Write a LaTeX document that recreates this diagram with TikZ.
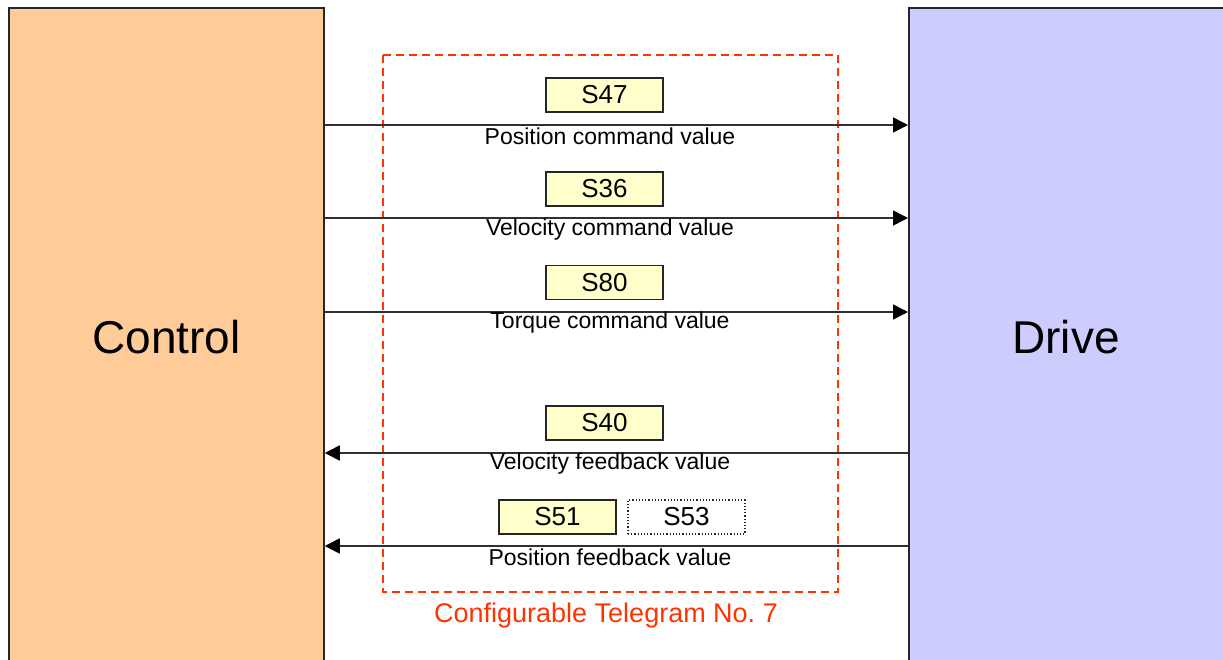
\documentclass[tikz,border=0pt]{standalone}
\usepackage{fontspec}
\setmainfont{Liberation Sans}
\usetikzlibrary{arrows.meta}
\definecolor{ctrlfill}{HTML}{FFCC99}
\definecolor{drivefill}{HTML}{CCCCFF}
\definecolor{idfill}{HTML}{FFFFCC}
\definecolor{telred}{HTML}{FF3300}
\definecolor{wire}{HTML}{303030}
\tikzset{
  unit/.style={draw=black!85, line width=1.5pt, minimum height=662pt,
    inner sep=0pt},
  ident/.style={draw=black!85, line width=1.2pt, fill=idfill, minimum width=117pt,
    minimum height=34pt, inner sep=0pt, font=\fontsize{26}{28}\selectfont},
  identopt/.style={ident, fill=white, dotted, line width=1.5pt},
  sig/.style={font=\fontsize{23}{25}\selectfont, inner sep=0pt},
  flow/.style={draw=wire, line width=1.6pt, -{Triangle[length=15pt,width=15pt,color=black]}},
  telegram/.style={draw=telred, line width=2pt, dash pattern=on 8pt off 5pt},
}
\frenchspacing
\begin{document}
\begin{tikzpicture}[x=1pt, y=-1pt]
  \useasboundingbox (0,0) rectangle (1223,659);
  \clip (0,0) rectangle (1223,659);

  % the two communicating units
  \node[unit, fill=ctrlfill, minimum width=315pt] (ctrl) at (166.5,339) {};
  \node[unit, fill=drivefill, minimum width=340pt, anchor=west] (drive) at (908,339) {};
  \node[font=\fontsize{46}{50}\selectfont] (ctrltext) at (166.5,337) {Control};
  \node[font=\fontsize{46}{50}\selectfont] (drivetext) at (1066,337) {Drive};

  % telegram frame
  \draw[telegram] (383,55) rectangle (838,592);
  \node[text=telred, font=\fontsize{27}{29}\selectfont] (tellabel) at (606,616) {Configurable Telegram No. 7};

  % signal levels
  \coordinate (l1) at (0,125);
  \coordinate (l2) at (0,218);
  \coordinate (l3) at (0,312);
  \coordinate (l4) at (0,453);
  \coordinate (l5) at (0,546);

  % command values (control -> drive)
  \draw[flow] (ctrl.east |- l1) -- (drive.west |- l1);
  \draw[flow] (ctrl.east |- l2) -- (drive.west |- l2);
  \draw[flow] (ctrl.east |- l3) -- (drive.west |- l3);
  % feedback values (drive -> control)
  \draw[flow] (drive.west |- l4) -- (ctrl.east |- l4);
  \draw[flow] (drive.west |- l5) -- (ctrl.east |- l5);

  % parameter identifiers
  \node[ident] (s47) at (604.5,95) {S47};
  \node[ident] (s36) at (604.5,189) {S36};
  \node[ident] (s80) at (604.5,282.5) {S80};
  \node[ident] (s40) at (604.5,423) {S40};
  \node[ident] (s51) at (557.5,517) {S51};
  \node[identopt] (s53) at (686.5,517) {S53};

  % signal names
  \node[sig] (n1) at (610,136) {Position command value};
  \node[sig] (n2) at (610,230) {Velocity command value};
  \node[sig] (n3) at (610,323) {Torque command value};
  \node[sig] (n4) at (610,464) {Velocity feedback value};
  \node[sig] (n5) at (610,557) {Position feedback value};
\end{tikzpicture}
\end{document}
